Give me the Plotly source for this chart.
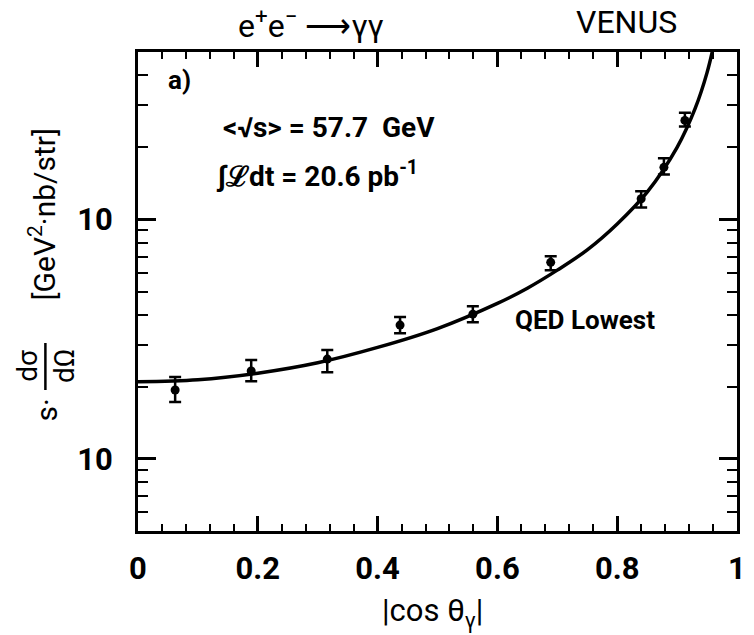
import plotly.graph_objects as go
import math

# ---- data ----
cos_theta = [0.062, 0.189, 0.316, 0.4375, 0.559, 0.689, 0.840, 0.878, 0.913]
xsec = [19.4, 23.3, 26.1, 36.2, 40.2, 66.2, 122, 165, 259]
err_up = [2.6, 2.6, 2.4, 2.9, 3.2, 4.0, 9, 15, 20]
err_dn = [2.1, 2.2, 3.1, 2.7, 3.0, 4.9, 10, 11, 15]

qed_x = [0, 0.1, 0.2, 0.3, 0.4, 0.5, 0.6, 0.65, 0.7, 0.75, 0.8, 0.85, 0.9, 0.93, 0.95, 0.965]
qed_y = [21.0, 21.4, 22.8, 25.2, 29.2, 35.0, 44.6, 51.6, 61.4, 74.6, 95.7, 130, 200, 290, 410, 590]

x_ticks = [0, 0.2, 0.4, 0.6, 0.8, 1]
x_ticktext = ["0", "0.2", "0.4", "0.6", "0.8", "1"]
y_ticks = [10, 100]
y_ticktext = ["10", "10"]
y_minor = [5, 6, 7, 8, 9, 20, 30, 40, 50, 60, 70, 80, 90, 200, 300, 400, 500]

W, H = 754, 635
L, R, T, B = 138, 8, 52, 104
PW, PH = W - L - R, H - T - B
FONT = "Roboto, Liberation Sans, Arial"


def px(x, y):
    return (x - L) / PW, (H - B - y) / PH


fig = go.Figure()

fig.add_trace(go.Scatter(
    x=qed_x, y=qed_y, mode="lines",
    line=dict(color="black", width=3.5, shape="spline", smoothing=1.0),
    showlegend=False, hoverinfo="skip"))

fig.add_trace(go.Scatter(
    x=cos_theta, y=xsec, mode="markers",
    marker=dict(color="black", size=9),
    error_y=dict(type="data", array=err_up, arrayminus=err_dn,
                 color="black", thickness=2.5, width=6),
    showlegend=False))

axis_common = dict(showline=True, linecolor="black", linewidth=3, mirror="ticks",
                   ticks="inside", tickcolor="black", showgrid=False, zeroline=False,
                   tickfont=dict(family=FONT, size=31, color="black", weight="bold"))

fig.update_xaxes(range=[0, 1], tickmode="array", tickvals=x_ticks, ticktext=x_ticktext,
                 ticklen=15, tickwidth=2.5,
                 minor=dict(dtick=0.04, tick0=0, ticks="inside", ticklen=7, tickwidth=2,
                            tickcolor="black", showgrid=False),
                 ticklabelstandoff=8,
                 **axis_common)
fig.update_yaxes(type="log", range=[math.log10(5), math.log10(500)], tickmode="array",
                 tickvals=y_ticks, ticktext=y_ticktext, ticklen=18, tickwidth=2.5,
                 minor=dict(tickmode="array", tickvals=y_minor, ticks="inside", ticklen=10,
                            tickwidth=2, tickcolor="black", showgrid=False),
                 ticklabelstandoff=16,
                 **axis_common)

ann = []


def text(x, y, s, size, angle=0, xanchor="center", weight="bold"):
    xp, yp = px(x, y)
    ann.append(dict(x=xp, y=yp, xref="paper", yref="paper", text=s, showarrow=False,
                    xanchor=xanchor, yanchor="middle", textangle=angle,
                    font=dict(family=FONT, size=size, color="black", weight=weight)))


text(237, 24, "e<sup>+</sup>e<sup>−</sup> ⟶γγ", 32, xanchor="left", weight="normal")
text(634, 22, "VENUS", 32, weight="normal")
text(180, 80, "a)", 26)
text(222, 128, "&lt;√s&gt; = 57.7  GeV", 28, xanchor="left")
text(215, 175, "∫ℒdt = 20.6 pb<sup>-1</sup>", 28, xanchor="left")
text(592, 320, "QED Lowest", 26)
text(437, 612, "|cos θ<sub>γ</sub>|", 31, weight="normal")
# y-axis title pieces (rotated)
text(45, 410, "s·", 30, angle=-90, weight="normal")
text(25, 366, "dσ", 28, angle=-90, weight="normal")
text(63, 366, "dΩ", 28, angle=-90, weight="normal")
text(42, 214, "[GeV<sup>2</sup>·nb/str]", 30, angle=-90, weight="normal")

x0, y0 = px(44, 343)
x1, y1 = px(44, 390)
fig.add_shape(type="line", xref="paper", yref="paper", x0=x0, y0=y0, x1=x1, y1=y1,
              line=dict(color="black", width=2.5))

fig.update_layout(width=W, height=H, margin=dict(l=L, r=R, t=T, b=B),
                  plot_bgcolor="white", paper_bgcolor="white",
                  annotations=ann, showlegend=False,
                  font=dict(family=FONT, color="black"))

fig.write_html("out.html")
